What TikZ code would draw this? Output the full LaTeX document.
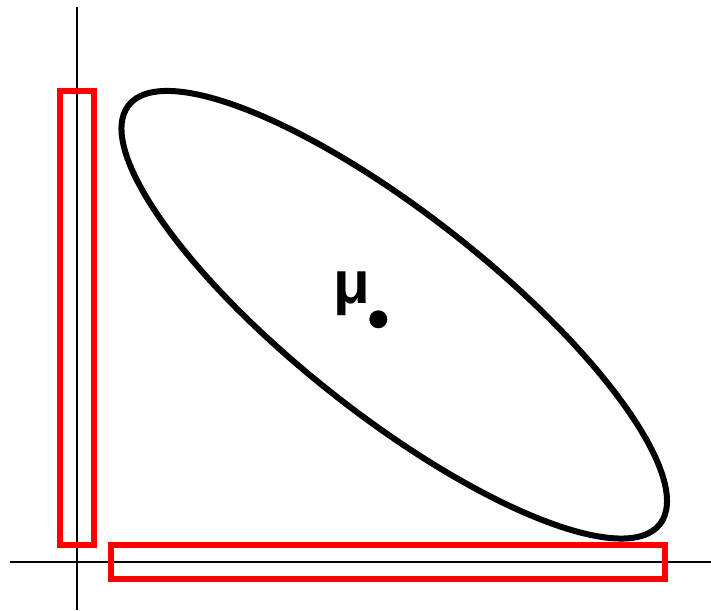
\documentclass[tikz,border=0pt]{standalone}
\usepackage{fontspec}
\newfontfamily\mufont{Liberation Sans}
\begin{document}
\begin{tikzpicture}[x=1pt,y=1pt,
  axisline/.style={draw=black,line width=2pt},
  redbox/.style={draw=red,line width=6pt},
  ellline/.style={draw=black,line width=6pt}]
\useasboundingbox (0,0) rectangle (711,610);
% axes
\coordinate (vtop) at (76.5,603);
\coordinate (vbot) at (76.5,0);
\coordinate (hleft) at (10,48.3);
\coordinate (hright) at (711,48.3);
\draw[axisline] (vtop) -- (vbot);
\draw[axisline] (hleft) -- (hright);
% red marginal boxes
\draw[redbox] (60.3,518.5) rectangle (93.7,65);
\draw[redbox] (110.7,65) rectangle (664.7,31.3);
% ellipse
\coordinate (c) at (394.25,295.25);
\draw[ellline,rotate around={-38.27:(c)}] (c) ellipse [x radius=338.3pt, y radius=100pt];
% mean
\fill (378.3,290.7) circle (9pt);
\node (mu) at (352,316) {\mufont\bfseries\fontsize{60}{60}\selectfont μ};
\end{tikzpicture}
\end{document}
